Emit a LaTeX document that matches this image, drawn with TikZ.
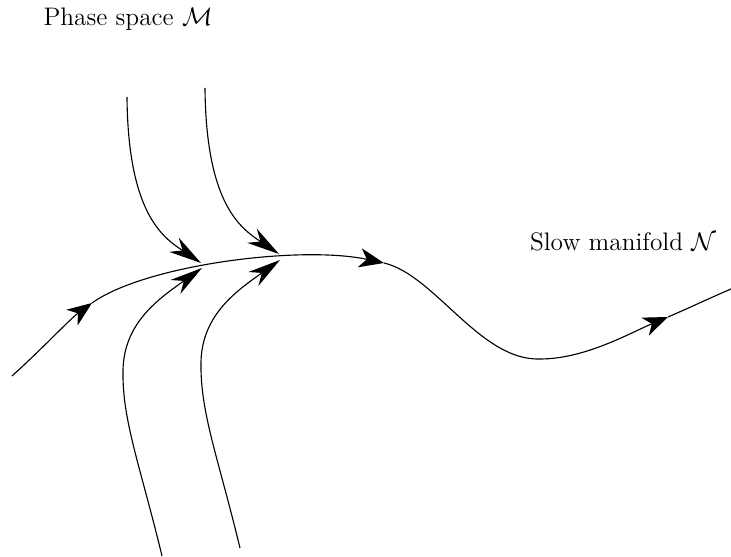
\documentclass[tikz,border=0pt]{standalone}
\usetikzlibrary{arrows.meta}
\begin{document}
\begin{tikzpicture}[x=0.445pt,y=-0.445pt,
  flow/.style={line width=0.5pt, black},
  mainhead/.style={-{Stealth[length=11pt,width=8.6pt,inset=3.2pt]}},
  sidehead/.style={-{Stealth[length=14.5pt,width=7.6pt,inset=4.6pt]}},
  lbl/.style={anchor=base, inner sep=0pt, font=\fontsize{12}{14}\selectfont, scale=0.94, transform shape}]
\useasboundingbox (0,0) rectangle (731,557);

% main trajectory (slow manifold)
\coordinate (m0) at (12,376);
\coordinate (m1) at (92,303);
\coordinate (m2) at (384,263);
\coordinate (m3) at (540,359);
\coordinate (m4) at (668,317);
\coordinate (m5) at (731,289);
\draw[flow,mainhead] (m0) .. controls (42,349) and (70,319) .. (m1);
\draw[flow,mainhead] (m1) .. controls (145,265) and (300,245) .. (m2);
\draw[flow] (m2) .. controls (435,275) and (480,361) .. (m3);
\draw[flow,mainhead] (m3) .. controls (585,359) and (630,333) .. (m4);
\draw[flow] (m4) .. controls (689,308) and (710,298) .. (m5);

% incoming from above
\coordinate (t1s) at (127,97);
\coordinate (t1e) at (201,263);
\coordinate (t2s) at (205,88);
\coordinate (t2e) at (279,254);
\draw[flow,sidehead] (t1s) .. controls (128,215) and (164,238) .. (t1e);
\draw[flow,sidehead] (t2s) .. controls (206,206) and (242,229) .. (t2e);

% incoming from below
\coordinate (b1s) at (162,556);
\coordinate (b1e) at (202,268);
\coordinate (b2s) at (240,548);
\coordinate (b2e) at (280,260);
\draw[flow,sidehead] (b1s) .. controls (140,465) and (122,420) .. (123,370)
  .. controls (124,322) and (160,298) .. (b1e);
\draw[flow,sidehead] (b2s) .. controls (218,457) and (200,412) .. (201,362)
  .. controls (202,314) and (238,290) .. (b2e);

% labels
\node[lbl] (ps) at (128,25.7) {Phase space $\mathcal{M}$};
\node[lbl] (sm) at (623,251) {Slow manifold $\mathcal{N}$};
\end{tikzpicture}
\end{document}
